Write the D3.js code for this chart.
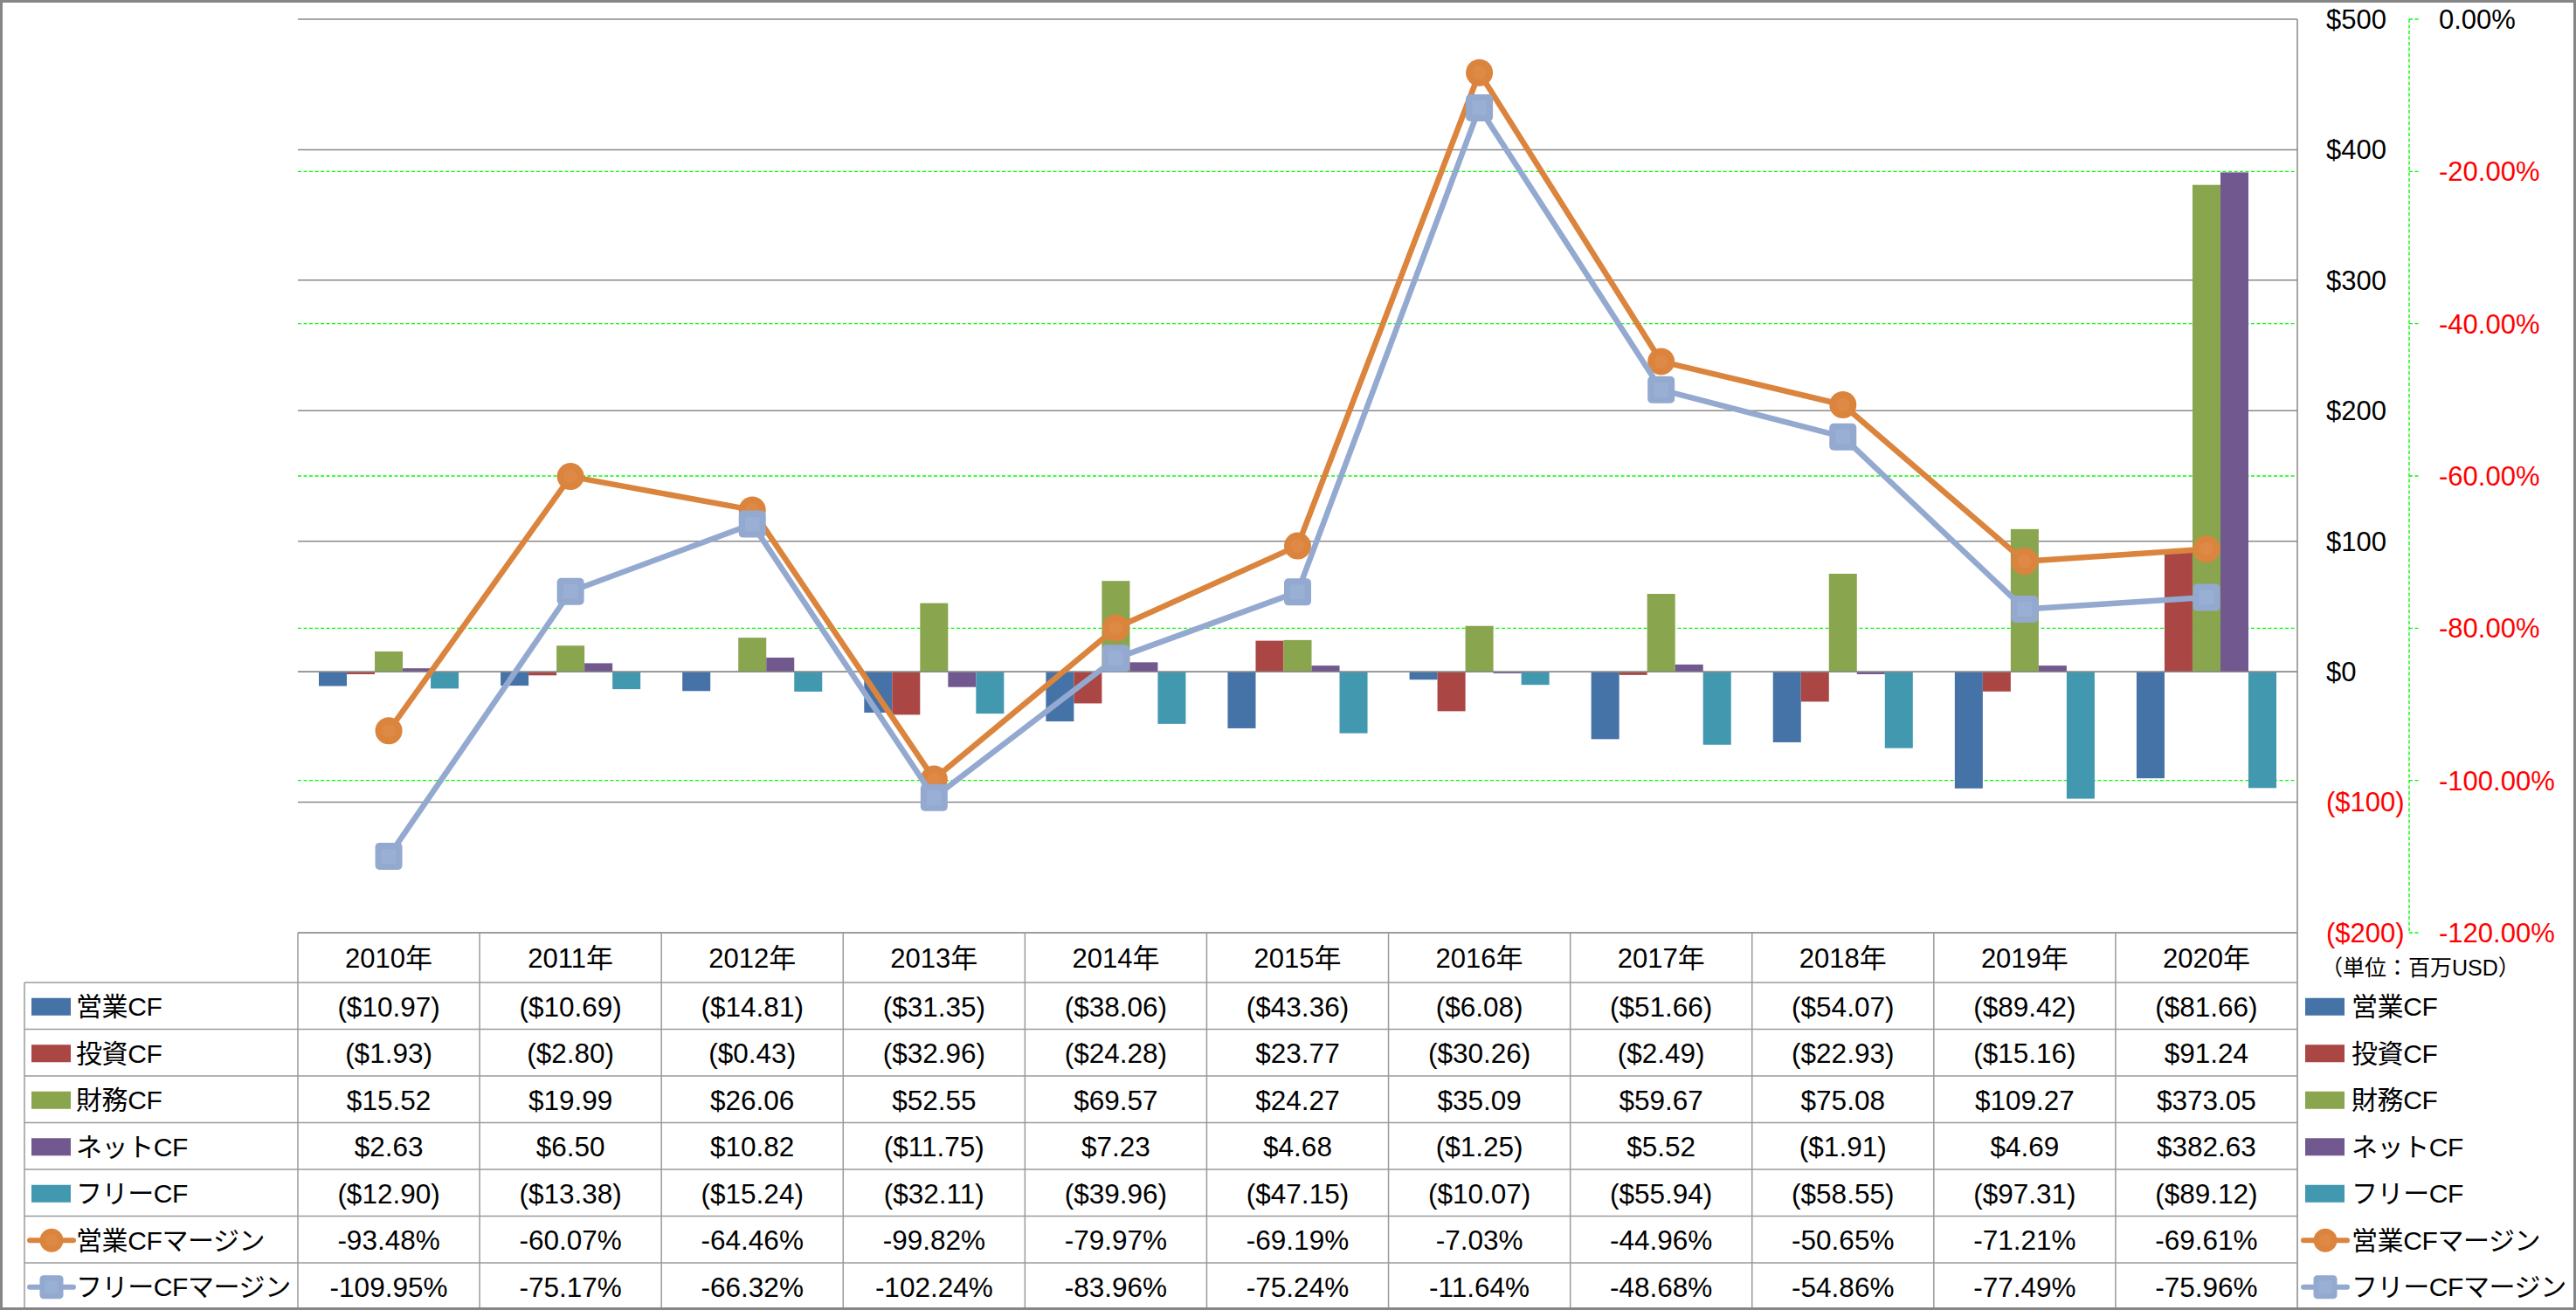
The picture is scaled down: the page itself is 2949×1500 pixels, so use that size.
<!DOCTYPE html>
<html>
<head>
<meta charset="utf-8">
<script src="https://cdn.jsdelivr.net/npm/d3@7"></script>
<style>
html,body{margin:0;padding:0;background:#fff;}
svg{display:block;}
text{font-family:"Liberation Sans","Noto Sans CJK JP",sans-serif;}
</style>
</head>
<body>
<svg id="chart" width="2949" height="1500"></svg>
<script>
// ---------- data ----------
const years = ["2010年","2011年","2012年","2013年","2014年","2015年","2016年","2017年","2018年","2019年","2020年"];
const opCF   = [-10.97,-10.69,-14.81,-31.35,-38.06,-43.36,-6.08,-51.66,-54.07,-89.42,-81.66];
const invCF  = [-1.93,-2.80,-0.43,-32.96,-24.28,23.77,-30.26,-2.49,-22.93,-15.16,91.24];
const finCF  = [15.52,19.99,26.06,52.55,69.57,24.27,35.09,59.67,75.08,109.27,373.05];
const netCF  = [2.63,6.50,10.82,-11.75,7.23,4.68,-1.25,5.52,-1.91,4.69,382.63];
const freeCF = [-12.90,-13.38,-15.24,-32.11,-39.96,-47.15,-10.07,-55.94,-58.55,-97.31,-89.12];
const opMargin   = [-93.48,-60.07,-64.46,-99.82,-79.97,-69.19,-7.03,-44.96,-50.65,-71.21,-69.61];
const freeMargin = [-109.95,-75.17,-66.32,-102.24,-83.96,-75.24,-11.64,-48.68,-54.86,-77.49,-75.96];
const barNames  = ["営業CF","投資CF","財務CF","ネットCF","フリーCF"];
const lineNames = ["営業CFマージン","フリーCFマージン"];
const usdTicks = [500,400,300,200,100,0,-100,-200];
const pctTicks = [0,-20,-40,-60,-80,-100,-120];
const unitLabel = "（単位：百万USD）";

const barSeries = [opCF, invCF, finCF, netCF, freeCF];
const lineSeries = [opMargin, freeMargin];
const barColors = ["#4572A7","#AA4643","#89A54E","#71588F","#4198AF"];
const lineColors = ["#DB843D","#93A9CF"];

// ---------- layout ----------
const W = 2949, H = 1500;
const plotL = 341, plotR = 2630, plotT = 22, plotB = 1068;
const rowH = 53.5, headerH = 57;
const tableTop = plotB, firstRow = tableTop + headerH;
const labelL = 28;

const svg = d3.select("#chart");

const x = d3.scaleBand().domain(years).range([plotL, plotR]);
const yBar = d3.scaleLinear().domain([-200, 500]).range([plotB, plotT]);
const yPct = d3.scaleLinear().domain([-120, 0]).range([plotB, plotT]);
const bw = x.bandwidth() / 6.5;
const xInner = d3.scaleBand().domain(d3.range(5)).range([0, bw * 5]);
const innerOff = (x.bandwidth() - bw * 5) / 2;

const fmtUSD = v => { const s = d3.format("$,.2f")(Math.abs(v)); return v < 0 ? "(" + s + ")" : s; };
const fmtUSD0 = v => { const s = "$" + Math.abs(v); return v < 0 ? "(" + s + ")" : s; };
const fmtPct = v => v.toFixed(2) + "%";

// gray gridlines
svg.append("g").selectAll("line").data(usdTicks).join("line")
  .attr("x1", plotL).attr("x2", plotR)
  .attr("y1", d => yBar(d)).attr("y2", d => yBar(d))
  .attr("stroke", "#898989").attr("stroke-width", 1.5);

// green dashed gridlines
svg.append("g").selectAll("line").data(pctTicks.filter(d => d < 0 && d > -120)).join("line")
  .attr("x1", plotL).attr("x2", plotR - 2)
  .attr("y1", d => yPct(d)).attr("y2", d => yPct(d))
  .attr("stroke", "#00FF00").attr("stroke-width", 1.4).attr("stroke-dasharray", "4,2.5");

// bars
barSeries.forEach((vals, si) => {
  svg.append("g").selectAll("rect").data(vals).join("rect")
    .attr("x", (d, i) => x(years[i]) + innerOff + xInner(si))
    .attr("width", xInner.bandwidth())
    .attr("y", d => Math.min(yBar(d), yBar(0)))
    .attr("height", d => Math.abs(yBar(d) - yBar(0)))
    .attr("fill", barColors[si]);
});

// zero line over bars
svg.append("line").attr("x1", plotL).attr("x2", plotR)
  .attr("y1", yBar(0)).attr("y2", yBar(0)).attr("stroke", "#898989").attr("stroke-width", 1.5);

// marker drawing helpers
function drawCircle(g, cx, cy, r, color) {
  g.append("circle").attr("cx", cx).attr("cy", cy).attr("r", r).attr("fill", color);
  g.append("circle").attr("cx", cx).attr("cy", cy).attr("r", r * 0.5).attr("fill", "#E08D4C").attr("opacity", 0.6);
}
function drawSquare(g, cx, cy, s, color) {
  g.append("rect").attr("x", cx - s / 2).attr("y", cy - s / 2).attr("width", s).attr("height", s)
    .attr("rx", s * 0.16).attr("fill", color);
  g.append("rect").attr("x", cx - s * 0.27).attr("y", cy - s * 0.27).attr("width", s * 0.54).attr("height", s * 0.54)
    .attr("fill", "#9BB0D4").attr("opacity", 0.8);
}

// lines
lineSeries.forEach((vals, si) => {
  const g = svg.append("g");
  const line = d3.line().x((d, i) => x(years[i]) + x.bandwidth() / 2).y(d => yPct(d));
  g.append("path").datum(vals).attr("d", line)
    .attr("fill", "none").attr("stroke", lineColors[si]).attr("stroke-width", 6.5)
    .attr("stroke-linejoin", "round");
  vals.forEach((d, i) => {
    const cx = x(years[i]) + x.bandwidth() / 2, cy = yPct(d);
    if (si === 0) drawCircle(g, cx, cy, 15.5, lineColors[0]);
    else drawSquare(g, cx, cy, 31, lineColors[1]);
  });
});

// right border of plot/table
svg.append("line").attr("x1", plotR).attr("x2", plotR).attr("y1", plotT).attr("y2", H - 2)
  .attr("stroke", "#898989").attr("stroke-width", 1.5);

// USD axis labels
svg.append("g").selectAll("text").data(usdTicks).join("text")
  .attr("x", 2663).attr("y", d => yBar(d)).attr("dy", "0.35em")
  .attr("font-size", 31).attr("fill", d => d < 0 ? "#FF0000" : "#000")
  .text(fmtUSD0);

// percent axis (green dashed)
const pctAxisX = 2758;
svg.append("line").attr("x1", pctAxisX).attr("x2", pctAxisX).attr("y1", plotT).attr("y2", plotB)
  .attr("stroke", "#00FF00").attr("stroke-width", 1.4).attr("stroke-dasharray", "4,2.5");
svg.append("g").selectAll("line").data(pctTicks).join("line")
  .attr("x1", pctAxisX).attr("x2", pctAxisX + 12)
  .attr("y1", d => yPct(d)).attr("y2", d => yPct(d))
  .attr("stroke", "#00FF00").attr("stroke-width", 1.4).attr("stroke-dasharray", "4,2.5");
svg.append("g").selectAll("text").data(pctTicks).join("text")
  .attr("x", 2792).attr("y", d => yPct(d)).attr("dy", "0.35em")
  .attr("font-size", 31).attr("fill", d => d < 0 ? "#FF0000" : "#000")
  .text(fmtPct);

// unit label
svg.append("text").attr("x", 2657).attr("y", 1108).attr("dy", "0.35em")
  .attr("font-size", 25).attr("font-family", "Noto Sans CJK JP").text(unitLabel);

// ---------- table ----------
const tg = svg.append("g");
const nRows = barNames.length + lineNames.length;
const tableBottom = firstRow + nRows * rowH;
const lineColor = "#9a9a9a";
// header top
tg.append("line").attr("x1", plotL).attr("x2", plotR).attr("y1", tableTop).attr("y2", tableTop)
  .attr("stroke", lineColor).attr("stroke-width", 1.5);
// row lines
d3.range(nRows + 1).forEach(r => {
  const y = firstRow + r * rowH;
  tg.append("line").attr("x1", labelL).attr("x2", plotR).attr("y1", y).attr("y2", y)
    .attr("stroke", lineColor).attr("stroke-width", 1.5);
});
// column lines
years.forEach((yr, i) => {
  tg.append("line").attr("x1", x(yr)).attr("x2", x(yr)).attr("y1", tableTop).attr("y2", tableBottom)
    .attr("stroke", lineColor).attr("stroke-width", 1.5);
});
tg.append("line").attr("x1", labelL).attr("x2", labelL).attr("y1", firstRow).attr("y2", tableBottom)
  .attr("stroke", lineColor).attr("stroke-width", 1.5);

// header text
tg.selectAll("text.hdr").data(years).join("text").attr("class", "hdr")
  .attr("x", d => x(d) + x.bandwidth() / 2).attr("y", tableTop + headerH / 2 + 1).attr("dy", "0.35em")
  .attr("text-anchor", "middle").attr("font-size", 31).text(d => d);

// body values
const rowsData = barSeries.map(v => v.map(fmtUSD)).concat(lineSeries.map(v => v.map(fmtPct)));
rowsData.forEach((vals, r) => {
  const cy = firstRow + r * rowH + rowH / 2 + 1;
  tg.append("g").selectAll("text").data(vals).join("text")
    .attr("x", (d, i) => x(years[i]) + x.bandwidth() / 2).attr("y", cy).attr("dy", "0.35em")
    .attr("text-anchor", "middle").attr("font-size", 31.5).text(d => d);
});

// legend entries (left in table, right beside table)
const allNames = barNames.concat(lineNames);
function legendEntry(g, r, boxX, textX) {
  const cy = firstRow + r * rowH + rowH / 2 + 1;
  if (r < barNames.length) {
    g.append("rect").attr("x", boxX).attr("y", cy - 10).attr("width", 45).attr("height", 20).attr("fill", barColors[r]);
  } else {
    const li = r - barNames.length;
    g.append("line").attr("x1", boxX - 2).attr("x2", boxX + 48).attr("y1", cy).attr("y2", cy)
      .attr("stroke", lineColors[li]).attr("stroke-width", 6).attr("stroke-linecap", "round");
    if (li === 0) drawCircle(g, boxX + 23, cy, 13.5, lineColors[0]);
    else drawSquare(g, boxX + 23, cy, 27, lineColors[1]);
  }
  g.append("text").attr("x", textX).attr("y", cy).attr("dy", "0.35em")
    .attr("font-size", 30).attr("letter-spacing", -0.4).attr("font-family", "Noto Sans CJK JP").text(allNames[r]);
}
allNames.forEach((n, r) => {
  legendEntry(tg, r, 36, 87);
  legendEntry(tg, r, 2639, 2692);
});

// outer border
svg.append("rect").attr("x", 1.5).attr("y", 1.5).attr("width", W - 3).attr("height", H - 3)
  .attr("fill", "none").attr("stroke", "#868686").attr("stroke-width", 3);
</script>
</body>
</html>
